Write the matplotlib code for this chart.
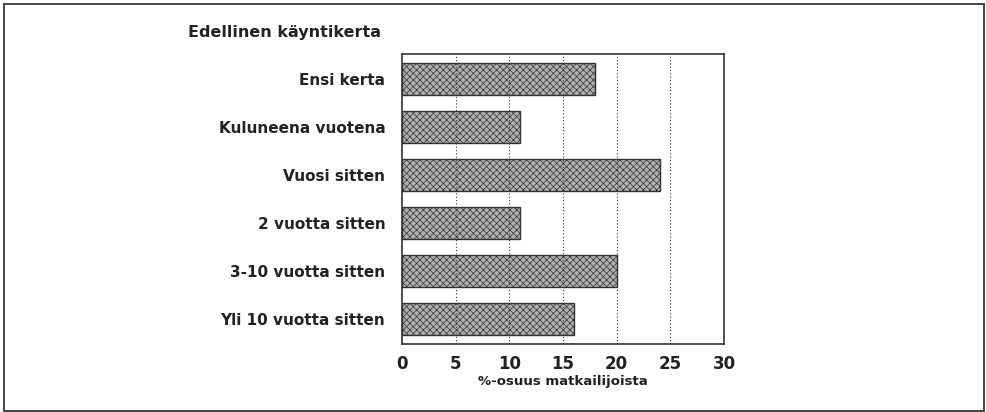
import numpy as np
import matplotlib
matplotlib.use("Agg")
import matplotlib.pyplot as plt
from matplotlib.patches import Rectangle

# Data
categories = ["Ensi kerta", "Kuluneena vuotena", "Vuosi sitten",
              "2 vuotta sitten", "3-10 vuotta sitten", "Yli 10 vuotta sitten"]
shares = [18, 11, 24, 11, 20, 16]
xticks = [0, 5, 10, 15, 20, 25, 30]

plt.rcParams['font.family'] = ['DejaVu Sans']
plt.rcParams['hatch.color'] = '#444444'
plt.rcParams['hatch.linewidth'] = 0.5

fig = plt.figure(figsize=(9.86, 4.12), dpi=100)
ax = fig.add_axes([402 / 986, 1 - 344 / 412, 322 / 986, 290 / 412])

# outer frame around the whole figure
fig.patches.append(Rectangle((4 / 986, 1 - 411 / 412), 980 / 986, 407 / 412,
                             transform=fig.transFigure, fill=False,
                             edgecolor='#444444', linewidth=1.4))

y = np.arange(len(categories))
ax.barh(y, shares, height=0.67, color='#b0b0b0', edgecolor='#333333',
        linewidth=1.0, hatch='xxxxx', zorder=2)

ax.set_xlim(0, 30)
ax.set_ylim(len(categories) - 0.48, -0.52)
ax.set_xticks(xticks)
ax.set_xticklabels([str(t) for t in xticks], fontsize=12, weight='bold',
                   color='#222222')
ax.set_yticks(y)
ax.set_yticklabels(categories, fontsize=11, weight='bold', color='#222222')
ax.tick_params(axis='y', length=0, pad=12)
ax.tick_params(axis='x', length=0, pad=8)

for t in xticks[1:-1]:
    ax.axvline(t, color='#333333', linestyle=(0, (1, 2)), linewidth=0.8,
               zorder=3)

for s in ax.spines.values():
    s.set_color('#333333')
    s.set_linewidth(1.2)

ax.set_xlabel("%-osuus matkailijoista", fontsize=9.5, weight='bold',
              color='#222222', labelpad=1)

fig.text(188 / 986, 1 - 32 / 412, "Edellinen käyntikerta", fontsize=11.5,
         weight='bold', color='#222222', ha='left', va='center')

fig.savefig("out.png", dpi=100)
